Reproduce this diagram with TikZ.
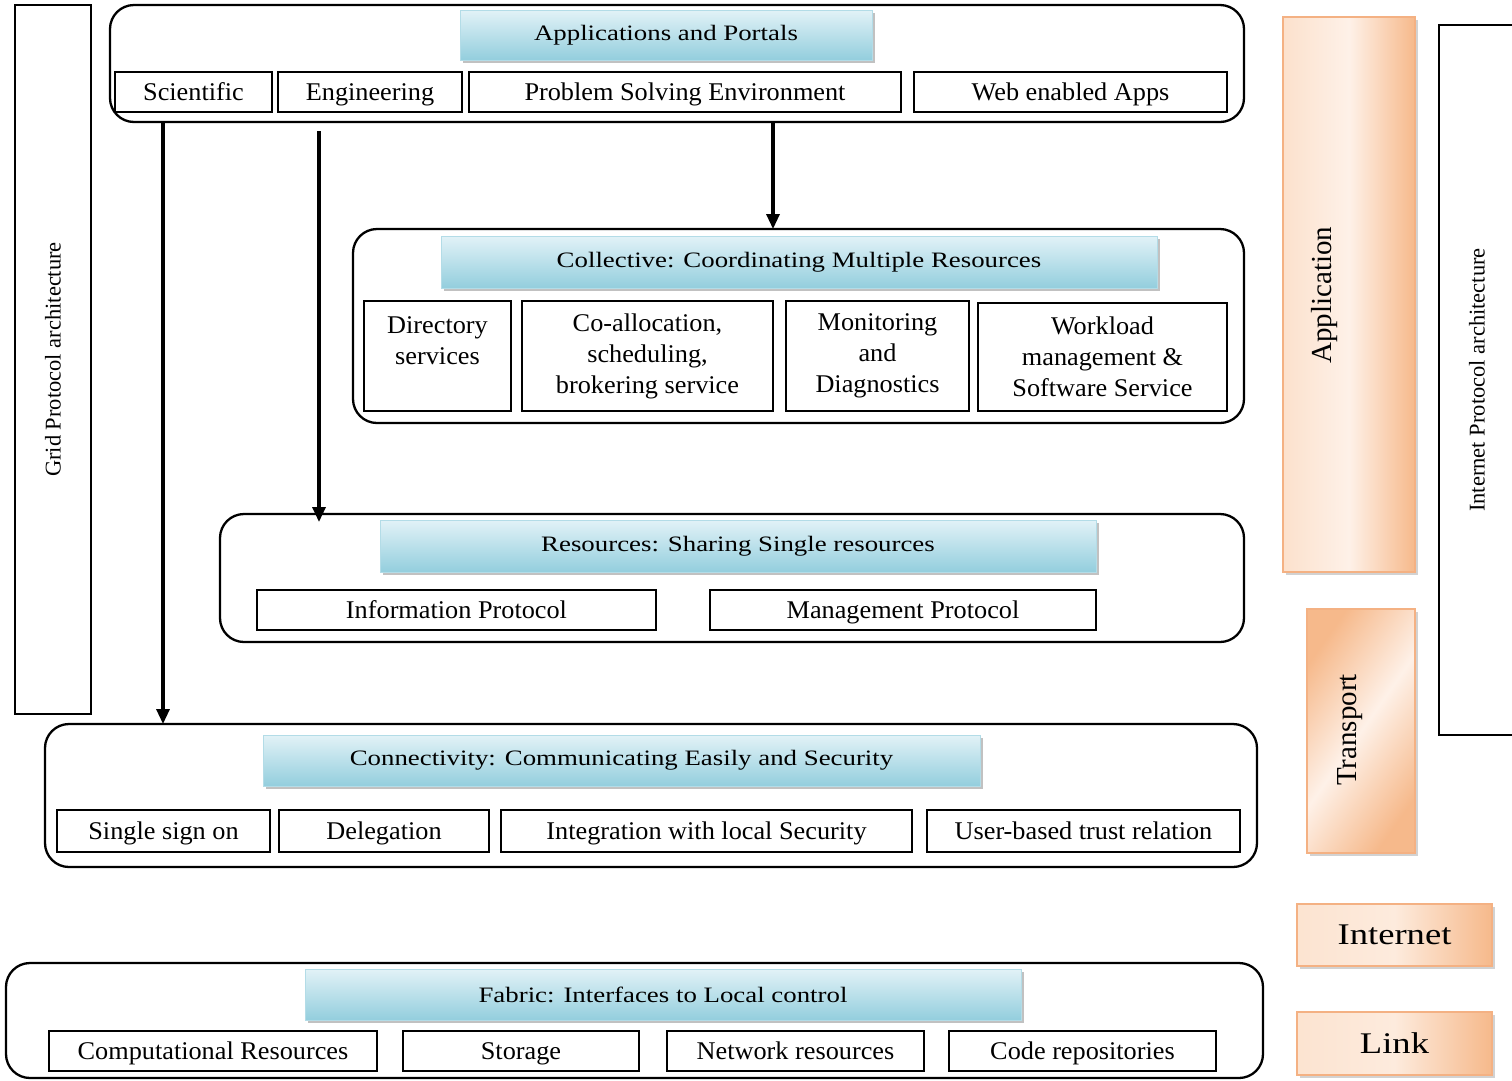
\documentclass[tikz,border=0pt]{standalone}
\usepackage{fontspec}
\setmainfont{Liberation Serif}[FakeStretch=1.22]
\newfontfamily\uprightfont{Liberation Serif}
\newfontfamily\itemfont{Liberation Serif}[FakeStretch=1.03]
\usetikzlibrary{arrows.meta,calc,shadows}

\definecolor{hdrtop}{HTML}{E2F2F7}
\definecolor{hdrbot}{HTML}{93CEDD}
\definecolor{hdredge}{HTML}{B3DCE7}
\definecolor{orEdge}{HTML}{F4B183}
\definecolor{orLight}{HTML}{FDEBDD}
\definecolor{orPale}{HTML}{FEF1E8}
\definecolor{orDark}{HTML}{F6B98B}

% diagonal band for the transport layer
\pgfdeclarehorizontalshading{transportband}{100bp}{
  color(0bp)=(orDark); color(25bp)=(orDark); color(50bp)=(orPale);
  color(75bp)=(orDark); color(100bp)=(orDark)}

\tikzset{
  group/.style={draw, line width=2.3pt, rounded corners=24pt, inner sep=0pt, outer sep=0pt},
  itembase/.style={draw, line width=2.2pt, fill=white, inner sep=0pt, outer sep=0pt, align=center},
  item/.style={itembase, font=\itemfont\fontsize{25.5}{31}\selectfont, text height=18pt, text depth=2pt},
  multiitem/.style={itembase, font=\itemfont\fontsize{25.5}{31}\selectfont},
  header/.style={draw=hdredge, line width=0.8pt, top color=hdrtop, bottom color=hdrbot,
    inner sep=0pt, outer sep=0pt, font=\fontsize{22}{26}\selectfont,
    drop shadow={shadow xshift=3pt, shadow yshift=-3pt, fill=black!40, opacity=0.6}},
  orbox/.style={draw=orEdge, line width=1.2pt, inner sep=0pt, outer sep=0pt,
    drop shadow={shadow xshift=3pt, shadow yshift=-3pt, fill=black!35, opacity=0.5}},
  sidebox/.style={draw, line width=2.2pt, inner sep=0pt, outer sep=0pt},
  vtext/.style={rotate=90, inner sep=0pt, font=\uprightfont\fontsize{22.5}{26}\selectfont},
  bigv/.style={rotate=90, inner sep=0pt, font=\uprightfont\fontsize{29}{32}\selectfont},
  flow/.style={line width=3.2pt, -{Triangle[length=15pt,width=13pt]}},
}

\begin{document}
\begin{tikzpicture}[x=1pt,y=-1pt]
\clip (0,0) rectangle (1512,1080);
\fill[white] (0,0) rectangle (1512,1080);

% left side: grid protocol stack label
\node[sidebox, minimum width=76, minimum height=709] (grid) at (53,359.5) {};
\node[vtext] (gridtxt) at (grid.center) {Grid Protocol architecture};

% applications layer
\node[group, minimum width=1134, minimum height=117] (apps) at (677,63.5) {};
\node[header, minimum width=412, minimum height=50] (appshdr) at (666,35) {Applications and Portals};
\node[item, minimum width=157, minimum height=40] (sci) at (193.5,92) {Scientific};
\node[item, minimum width=184, minimum height=40] (eng) at (370,92) {Engineering};
\node[item, minimum width=432, minimum height=40] (pse) at (685,92) {Problem Solving Environment};
\node[item, minimum width=313, minimum height=40] (web) at (1070.5,92) {Web enabled Apps};

% collective layer
\node[group, minimum width=891, minimum height=194] (coll) at (798.5,326) {};
\node[header, minimum width=716, minimum height=52] (collhdr) at (799,262) {Collective: Coordinating Multiple Resources};
\node[multiitem, minimum width=147, minimum height=110] (dir) at (437.5,356) {Directory\\services\\\mbox{}};
\node[multiitem, minimum width=251, minimum height=110] (coal) at (647.5,356) {Co-allocation,\\scheduling,\\brokering service};
\node[multiitem, minimum width=183, minimum height=110] (mon) at (877.5,356) {Monitoring\\and\\Diagnostics};
\node[multiitem, minimum width=249, minimum height=108] (work) at (1102.5,357) {Workload\\management \&\\Software Service};

% resource layer
\node[group, minimum width=1024, minimum height=128] (res) at (732,578) {};
\node[header, minimum width=716, minimum height=52] (reshdr) at (738,546) {Resources: Sharing Single resources};
\node[item, minimum width=399, minimum height=40] (info) at (456.5,610) {Information Protocol};
\node[item, minimum width=386, minimum height=40] (mgmt) at (903,610) {Management Protocol};

% connectivity layer
\node[group, minimum width=1212, minimum height=143] (conn) at (651,795.5) {};
\node[header, minimum width=717, minimum height=51] (connhdr) at (621.5,760.5) {Connectivity: Communicating Easily and Security};
\node[item, minimum width=213, minimum height=42] (sso) at (163.5,831) {Single sign on};
\node[item, minimum width=210, minimum height=42] (deleg) at (384,831) {Delegation};
\node[item, minimum width=411, minimum height=42] (integ) at (706.5,831) {Integration with local Security};
\node[item, minimum width=313, minimum height=42] (trust) at (1083.5,831) {User-based trust relation};

% fabric layer
\node[group, minimum width=1257, minimum height=115] (fab) at (634.5,1020.5) {};
\node[header, minimum width=716, minimum height=51] (fabhdr) at (663,994.5) {Fabric: Interfaces to Local control};
\node[item, minimum width=328, minimum height=40] (comp) at (213,1051) {Computational Resources};
\node[item, minimum width=236, minimum height=40] (stor) at (521,1051) {Storage};
\node[item, minimum width=257, minimum height=40] (netres) at (795.5,1051) {Network resources};
\node[item, minimum width=267, minimum height=40] (code) at (1082.5,1051) {Code repositories};

% internet protocol stack
\node[orbox, minimum width=132, minimum height=555, left color=orLight!80!orDark, right color=orDark, middle color=orPale] (app) at (1349,294.5) {};
\node[bigv] (apptxt) at (1325,295) {Application};
\node[orbox, minimum width=108, minimum height=244, shading=transportband, shading angle=-35] (trans) at (1361,731) {};
\node[bigv] (transtxt) at (1350,730) {Transport};
\node[orbox, minimum width=195, minimum height=62, left color=orLight!85!orDark, right color=orDark, middle color=orLight,
  font=\fontsize{30}{34}\selectfont] (inet) at (1394.5,935) {Internet};
\node[orbox, minimum width=195, minimum height=63, left color=orLight!85!orDark, right color=orDark, middle color=orLight,
  font=\fontsize{30}{34}\selectfont] (link) at (1394.5,1043.5) {Link};

% right side: internet protocol label (box runs off the right edge)
\node[sidebox, minimum width=91, minimum height=710] (ipa) at (1484.5,380) {};
\node[vtext] (ipatxt) at (1477,380) {Internet Protocol architecture};

% arrows between layers
\coordinate (xa) at (163,0);
\coordinate (xb) at (319,0);
\coordinate (xc) at (773,0);
\draw[flow] (apps.south -| xa) -- (conn.north -| xa);
\draw[flow] ($(apps.south -| xb)+(0,9)$) -- ($(res.north -| xb)+(0,8)$);
\draw[flow] (apps.south -| xc) -- (coll.north -| xc);
\end{tikzpicture}
\end{document}
